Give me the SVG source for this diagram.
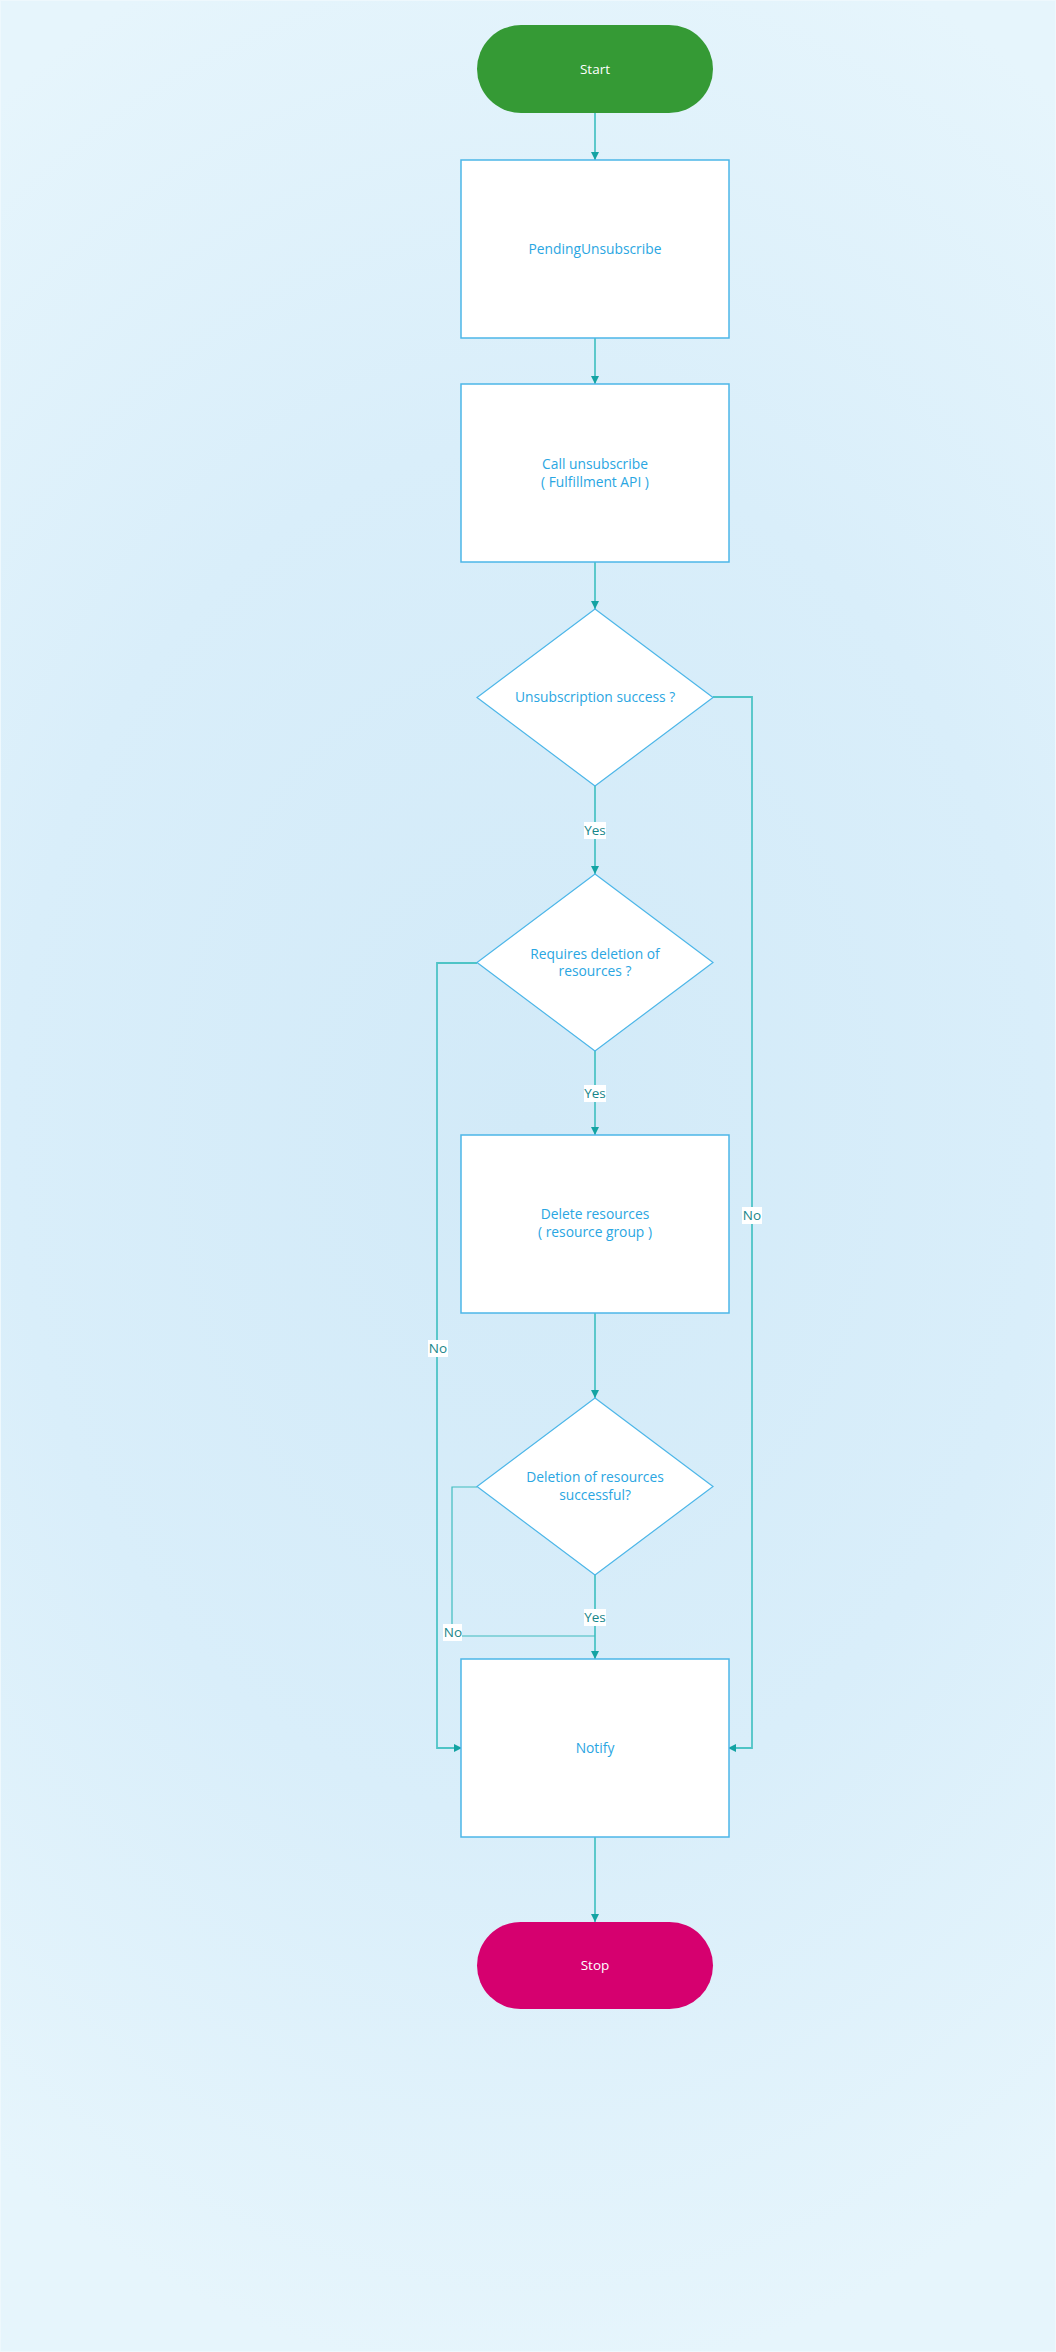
<svg xmlns="http://www.w3.org/2000/svg" width="1056" height="2352" viewBox="0 0 1056 2352">
  <defs>
    <radialGradient id="bg" cx="528" cy="1130" r="1250" gradientUnits="userSpaceOnUse" gradientTransform="translate(528 1130) scale(0.75 1) translate(-528 -1130)">
      <stop offset="0" stop-color="#d2eaf8"/>
      <stop offset="0.55" stop-color="#d9eefa"/>
      <stop offset="1" stop-color="#e6f5fc"/>
    </radialGradient>
    <marker id="arrow" viewBox="0 0 8 8" refX="8" refY="4" markerWidth="8" markerHeight="8" markerUnits="userSpaceOnUse" orient="auto">
      <path d="M0,0 L8,4 L0,8 Z" fill="#14a3a3"/>
    </marker>
    <style>
      .box { fill: #ffffff; stroke: #4cb6e8; stroke-width: 1.5; }
      .dia { fill: #ffffff; stroke: #4cb6e8; stroke-width: 1.2; }
      .txt { font-family: "Open Sans", "Noto Sans", sans-serif; font-size: 13.8px; fill: #2aa6e2; text-anchor: middle; }
      .term { font-family: "Open Sans", "Noto Sans", sans-serif; font-size: 13.5px; fill: #ffffff; text-anchor: middle; }
      .edge { fill: none; stroke: #4ec4c6; stroke-width: 1.8; }
      .thin { fill: none; stroke: #3fbcbe; stroke-width: 1.2; }
      .lblbg { fill: #ffffff; }
      .lbl { font-family: "Open Sans", "Noto Sans", sans-serif; font-size: 13.5px; fill: #17868a; text-anchor: middle; }
    </style>
  </defs>

  <!-- page background -->
  <rect x="0" y="0" width="1056" height="2352" fill="url(#bg)"/>
  <rect x="0.5" y="0.5" width="1055" height="2351" fill="none" stroke="#eef8fd" stroke-width="1"/>

  <!-- connectors -->
  <g id="connectors">
    <path class="edge" d="M595,113 V160" marker-end="url(#arrow)"/>
    <path class="edge" d="M595,338 V384" marker-end="url(#arrow)"/>
    <path class="edge" d="M595,562 V609" marker-end="url(#arrow)"/>
    <path class="edge" d="M595,786 V874" marker-end="url(#arrow)"/>
    <path class="edge" d="M713,697 H752 V1748 H728" marker-end="url(#arrow)"/>
    <path class="edge" d="M595,1051 V1135" marker-end="url(#arrow)"/>
    <path class="edge" d="M477,963 H437 V1748 H462" marker-end="url(#arrow)"/>
    <path class="edge" d="M595,1313 V1398" marker-end="url(#arrow)"/>
    <path class="edge" d="M595,1575 V1659" marker-end="url(#arrow)"/>
    <path class="thin" d="M477,1487 H452 V1636 H595"/>
    <path class="edge" d="M595,1837 V1922" marker-end="url(#arrow)"/>

    <!-- edge labels -->
    <rect class="lblbg" x="584" y="822" width="22" height="17"/>
    <text class="lbl" x="595" y="835">Yes</text>
    <rect class="lblbg" x="584" y="1085" width="22" height="17"/>
    <text class="lbl" x="595" y="1098">Yes</text>
    <rect class="lblbg" x="584" y="1609" width="22" height="17"/>
    <text class="lbl" x="595" y="1622">Yes</text>
    <rect class="lblbg" x="742" y="1207" width="20" height="17"/>
    <text class="lbl" x="752" y="1220">No</text>
    <rect class="lblbg" x="428" y="1340" width="20" height="17"/>
    <text class="lbl" x="438" y="1353">No</text>
    <rect class="lblbg" x="443" y="1624" width="19" height="17"/>
    <text class="lbl" x="453" y="1637">No</text>
  </g>

  <!-- nodes -->
  <g id="start">
    <rect x="477" y="25" width="236" height="88" rx="44" ry="44" fill="#359a35"/>
    <text class="term" x="595" y="74">Start</text>
  </g>

  <g id="pending-unsubscribe">
    <rect class="box" x="461" y="160" width="268" height="178"/>
    <text class="txt" x="595" y="254">PendingUnsubscribe</text>
  </g>

  <g id="call-unsubscribe">
    <rect class="box" x="461" y="384" width="268" height="178"/>
    <text class="txt" x="595" y="469">Call unsubscribe</text>
    <text class="txt" x="595" y="487">( Fulfillment API )</text>
  </g>

  <g id="unsubscription-success">
    <polygon class="dia" points="595,609 713,697.5 595,786 477,697.5"/>
    <text class="txt" x="595" y="702">Unsubscription success ?</text>
  </g>

  <g id="requires-deletion">
    <polygon class="dia" points="595,874 713,962.5 595,1051 477,962.5"/>
    <text class="txt" x="595" y="959">Requires deletion of</text>
    <text class="txt" x="595" y="976">resources ?</text>
  </g>

  <g id="delete-resources">
    <rect class="box" x="461" y="1135" width="268" height="178"/>
    <text class="txt" x="595" y="1219">Delete resources</text>
    <text class="txt" x="595" y="1237">( resource group )</text>
  </g>

  <g id="deletion-successful">
    <polygon class="dia" points="595,1398 713,1486.5 595,1575 477,1486.5"/>
    <text class="txt" x="595" y="1482">Deletion of resources</text>
    <text class="txt" x="595" y="1500">successful?</text>
  </g>

  <g id="notify">
    <rect class="box" x="461" y="1659" width="268" height="178"/>
    <text class="txt" x="595" y="1753">Notify</text>
  </g>

  <g id="stop">
    <rect x="477" y="1922" width="236" height="87" rx="43.5" ry="43.5" fill="#d6006f"/>
    <text class="term" x="595" y="1970">Stop</text>
  </g>
</svg>
